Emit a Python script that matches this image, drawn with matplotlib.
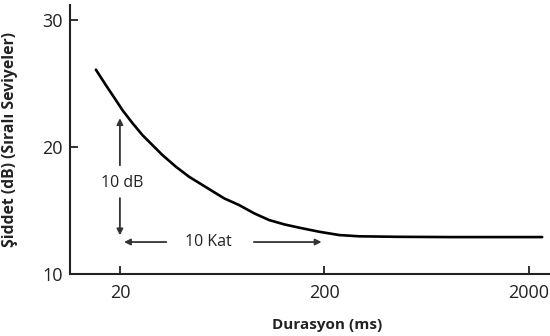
import numpy as np
import matplotlib.pyplot as plt

plt.rcParams['font.family'] = ['Open Sans', 'DejaVu Sans']

# curve (duration ms, level dB)
dur = [15.26, 17.08, 19.12, 20.59, 23.04, 25.8, 32.3, 37.6, 43.6, 50.7, 64.7,
       76.6, 90.7, 107.4, 127.2, 150.6, 188.6, 236.3, 296, 464, 815, 2322]
level = [26.1, 24.88, 23.7, 22.91, 21.89, 20.94, 19.37, 18.45, 17.66, 17.01, 15.96,
         15.43, 14.78, 14.25, 13.91, 13.65, 13.33, 13.07, 12.97, 12.93, 12.91, 12.91]

xticks = [20, 200, 2000]
yticks = [10, 20, 30]

fig = plt.figure(figsize=(5.5, 3.36), dpi=100)
ax = fig.add_axes([70/550, 1-274/336, 480/550, 269/336])

ax.plot(dur, level, color='black', lw=1.9, solid_capstyle='round')

ax.set_xscale('log')
ax.set_xlim(11.4, 2536)
ax.set_ylim(10, 31.2)
ax.set_xticks(xticks)
ax.set_xticklabels([str(v) for v in xticks])
ax.minorticks_off()
ax.set_yticks(yticks)

for s in ['top', 'right']:
    ax.spines[s].set_visible(False)
for s in ['left', 'bottom']:
    ax.spines[s].set_linewidth(1.5)
    ax.spines[s].set_color('#222222')

ax.tick_params(direction='in', length=6, width=1.3, color='#222222',
               labelsize=13, labelcolor='#222222')
ax.tick_params(axis='y', pad=5)
ax.tick_params(axis='x', pad=7)

ax.set_xlabel('Durasyon (ms)', fontsize=11, fontweight='bold', color='#222222')
ax.set_ylabel('Şiddet (dB) (Sıralı Seviyeler)', fontsize=11.3, fontweight='bold', color='#222222')
ax.xaxis.set_label_coords((327-70)/480, -(318-274)/269)
ax.yaxis.set_label_coords(-(70-18)/480, 0.5)

arr = dict(arrowstyle='-|>', color='#333333', lw=1.3, mutation_scale=9)
# vertical 10 dB arrow
ax.annotate('', xy=(20, 22.5), xytext=(20, 18.35), arrowprops=arr)
ax.annotate('', xy=(20, 12.83), xytext=(20, 16.2), arrowprops=arr)
ax.text(20.6, 17.2, '10 dB', ha='center', va='center', fontsize=11.5, color='#222222')
# horizontal 10 Kat arrow
ax.annotate('', xy=(20.3, 12.52), xytext=(34.8, 12.52), arrowprops=arr)
ax.annotate('', xy=(199.8, 12.52), xytext=(87.6, 12.52), arrowprops=arr)
ax.text(54, 12.52, '10 Kat', ha='center', va='center', fontsize=11.5, color='#222222')

fig.savefig('out.png', dpi=100)
